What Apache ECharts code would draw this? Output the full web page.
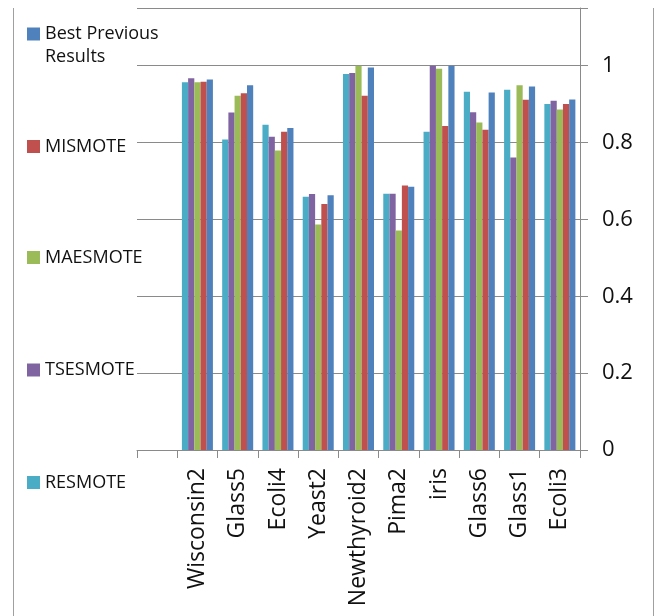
<!DOCTYPE html>
<html>
<head>
<meta charset="utf-8">
<script src="https://cdn.jsdelivr.net/npm/echarts@6/dist/echarts.min.js"></script>
<style>
html,body{margin:0;padding:0;background:#fff;}
#chart{width:658px;height:616px;}
</style>
</head>
<body>
<div id="chart"></div>
<script>
var categories = ['', 'Wisconsin2', 'Glass5', 'Ecoli4', 'Yeast2', 'Newthyroid2', 'Pima2', 'iris', 'Glass6', 'Glass1', 'Ecoli3'];
var resmote  = [null, 0.957, 0.808, 0.846, 0.659, 0.978, 0.667, 0.828, 0.932, 0.937, 0.900];
var tsesmote = [null, 0.967, 0.878, 0.815, 0.666, 0.981, 0.667, 1.000, 0.879, 0.761, 0.909];
var maesmote = [null, 0.957, 0.922, 0.779, 0.587, 1.000, 0.571, 0.992, 0.852, 0.949, 0.886];
var mismote  = [null, 0.958, 0.928, 0.828, 0.640, 0.922, 0.688, 0.843, 0.833, 0.911, 0.900];
var best     = [null, 0.964, 0.949, 0.838, 0.663, 0.995, 0.685, 1.000, 0.930, 0.946, 0.912];
var yTicks = [0, 0.2, 0.4, 0.6, 0.8, 1];

var FONT = 'Open Sans';
var seriesDefs = [
  {name: 'RESMOTE', data: resmote, color: '#4BACC6'},
  {name: 'TSESMOTE', data: tsesmote, color: '#8064A2'},
  {name: 'MAESMOTE', data: maesmote, color: '#9BBB59'},
  {name: 'MISMOTE', data: mismote, color: '#C0504D'},
  {name: 'Best Previous Results', data: best, color: '#4F81BD'}
];
var legendOrder = ['Best Previous Results', 'MISMOTE', 'MAESMOTE', 'TSESMOTE', 'RESMOTE'];
var legendTops = [25, 137.5, 248.5, 361, 473.5];

var chart = echarts.init(document.getElementById('chart'), null, {renderer: 'canvas'});
var option = {
  animation: false,
  backgroundColor: '#fff',
  textStyle: {fontFamily: FONT},
  grid: {left: 137, right: 78, top: 8, bottom: 166, containLabel: false},
  legend: legendOrder.map(function (n, i) {
    return {
      data: [n],
      orient: 'vertical',
      left: 27,
      top: legendTops[i],
      padding: 0,
      itemWidth: 13,
      itemHeight: 13,
      icon: 'rect',
      selectedMode: false,
      formatter: function (name) { return name === 'Best Previous Results' ? 'Best Previous' : name; },
      textStyle: {fontFamily: FONT, fontSize: 18, color: '#111'}
    };
  }),
  xAxis: {
    type: 'category',
    data: categories,
    boundaryGap: true,
    axisLine: {show: true, lineStyle: {color: '#8a8a8a', width: 1}},
    axisTick: {show: true, length: 8, alignWithLabel: false, interval: 0, lineStyle: {color: '#8a8a8a'}},
    axisLabel: {interval: 0, rotate: 90, fontSize: 23, margin: 18, color: '#111', fontFamily: FONT},
    splitLine: {show: false}
  },
  yAxis: {
    type: 'value',
    position: 'right',
    min: 0,
    max: 1.15,
    interval: 0.2,
    axisLine: {show: true, lineStyle: {color: '#8a8a8a', width: 1}},
    axisTick: {show: true, length: 8, inside: false, lineStyle: {color: '#8a8a8a'}},
    axisLabel: {fontSize: 22, margin: 22, color: '#111', fontFamily: FONT,
      formatter: function (v) { return v > 1.001 ? '' : String(Math.round(v * 10) / 10); }},
    splitLine: {show: true, lineStyle: {color: '#8a8a8a', width: 1}}
  },
  series: seriesDefs.map(function (s) {
    return {
      name: s.name,
      type: 'bar',
      data: s.data,
      barGap: '0%',
      barCategoryGap: '23%',
      itemStyle: {color: s.color},
      emphasis: {disabled: true}
    };
  }),
  graphic: [
    {type: 'line', silent: true, shape: {x1: 13.5, y1: 8, x2: 13.5, y2: 616}, style: {stroke: '#a0a0a0', lineWidth: 1}},
    {type: 'line', silent: true, shape: {x1: 653.5, y1: 8, x2: 653.5, y2: 616}, style: {stroke: '#a0a0a0', lineWidth: 1}},
    {type: 'text', silent: true, left: 45, top: 48, style: {text: 'Results', fontFamily: FONT, fontSize: 18, fill: '#111'}}
  ]
};
chart.setOption(option);
</script>
</body>
</html>
